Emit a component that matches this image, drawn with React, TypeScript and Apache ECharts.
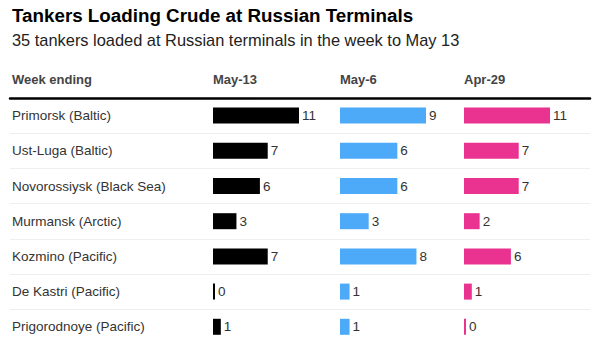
import React, { useEffect, useRef } from "react";
import * as echarts from "echarts";

const terminals = [
  "Primorsk (Baltic)",
  "Ust-Luga (Baltic)",
  "Novorossiysk (Black Sea)",
  "Murmansk (Arctic)",
  "Kozmino (Pacific)",
  "De Kastri (Pacific)",
  "Prigorodnoye (Pacific)",
];
const weeks = ["May-13", "May-6", "Apr-29"];
const may13 = [11, 7, 6, 3, 7, 0, 1];
const may6 = [9, 6, 6, 3, 8, 1, 1];
const apr29 = [11, 7, 7, 2, 6, 1, 0];
const colors = ["#000000", "#4DAAF8", "#EA3390"];
const columnLefts = [213, 340, 464];

const FONT = "'Liberation Sans', Arial, sans-serif";

export default function App() {
  const ref = useRef<HTMLDivElement>(null);
  useEffect(() => {
    if (!ref.current) return;
    const chart = echarts.init(ref.current, null, { renderer: "svg" });
    const seriesData = [may13, may6, apr29];
    const top = 98;
    const rowH = 35.2;
    const height = rowH * terminals.length;
    const grids: any[] = [
      { left: 10, right: 10, top, height },
      // separator grid: covers all rows but the last, so no line under the last row
      { left: 10, right: 10, top, height: rowH * (terminals.length - 1) },
    ];
    const xAxes: any[] = [
      {
        gridIndex: 0,
        type: "value",
        position: "top",
        min: 0,
        max: 1,
        axisLine: { show: true, onZero: false, lineStyle: { color: "#000", width: 2.5 } },
        axisTick: { show: false },
        axisLabel: { show: false },
        splitLine: { show: false },
        z: 5,
      },
      { gridIndex: 1, type: "value", min: 0, max: 1, show: false },
    ];
    const yAxes: any[] = [
      {
        gridIndex: 0,
        type: "category",
        inverse: true,
        data: terminals,
        axisLine: { show: false },
        axisTick: { show: false },
        axisLabel: {
          inside: true,
          margin: 2,
          color: "#333",
          fontFamily: FONT,
          fontSize: 13.5,
        },
        splitLine: { show: false },
      },
      {
        gridIndex: 1,
        type: "category",
        inverse: true,
        data: terminals.slice(0, terminals.length - 1),
        axisLine: { show: false },
        axisTick: { show: false },
        axisLabel: { show: false },
        splitLine: { show: true, lineStyle: { color: "#eeeeee", width: 1 } },
      },
    ];
    const series: any[] = [];
    seriesData.forEach((d, i) => {
      const mx = Math.max(...d);
      const gi = i + 2;
      grids.push({ left: columnLefts[i], width: 86, top, height });
      xAxes.push({
        gridIndex: gi,
        type: "value",
        min: 0,
        max: mx,
        show: false,
      });
      yAxes.push({
        gridIndex: gi,
        type: "category",
        inverse: true,
        data: terminals,
        show: false,
      });
      series.push({
        type: "bar",
        xAxisIndex: gi,
        yAxisIndex: gi,
        data: d,
        barWidth: 16,
        barMinHeight: 2,
        itemStyle: { color: colors[i] },
        label: {
          show: true,
          position: "right",
          distance: 3,
          color: "#333",
          fontFamily: FONT,
          fontSize: 13.5,
        },
      });
    });
    const headerStyle = {
      fontFamily: FONT,
      fontSize: 13,
      fontWeight: "bold",
      fill: "#444",
    };
    chart.setOption({
      animation: false,
      grid: grids,
      xAxis: xAxes,
      yAxis: yAxes,
      series,
      graphic: [
        {
          type: "text",
          left: 12,
          top: 6,
          style: {
            text: "Tankers Loading Crude at Russian Terminals",
            fontFamily: FONT,
            fontSize: 18.8,
            fontWeight: "bold",
            fill: "#000",
          },
        },
        {
          type: "text",
          left: 12,
          top: 32,
          style: {
            text: "35 tankers loaded at Russian terminals in the week to May 13",
            fontFamily: FONT,
            fontSize: 16.4,
            fill: "#222",
          },
        },
        { type: "text", left: 12, top: 73, style: { ...headerStyle, text: "Week ending" } },
        ...weeks.map((w, i) => ({
          type: "text",
          left: columnLefts[i],
          top: 73,
          style: { ...headerStyle, text: w },
        })),
      ],
    });
    return () => chart.dispose();
  }, []);
  return <div ref={ref} style={{ width: 600, height: 355, position: "absolute", left: 0, top: 0 }} />;
}
